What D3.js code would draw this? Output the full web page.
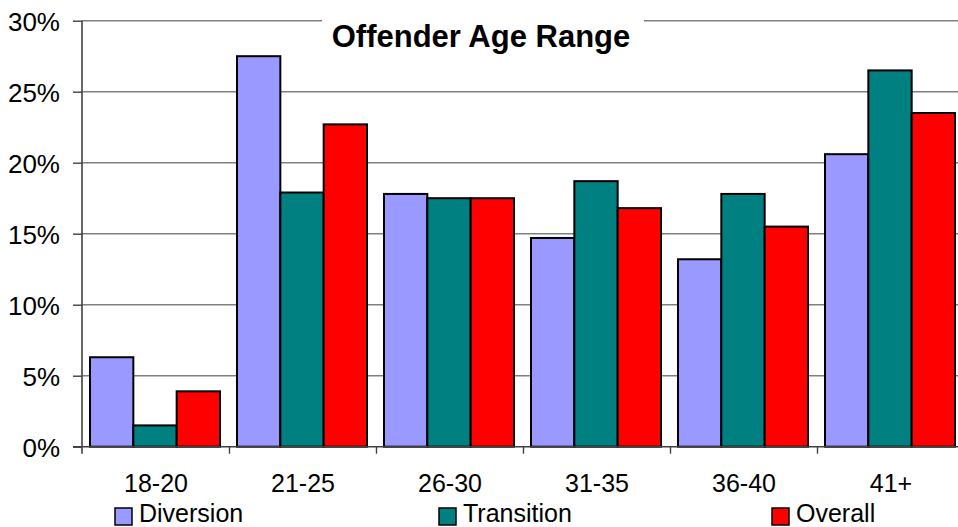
<!DOCTYPE html>
<html>
<head>
<meta charset="utf-8">
<script src="https://cdn.jsdelivr.net/npm/d3@7"></script>
<style>
  html, body { margin: 0; padding: 0; background: #fff; }
  svg { display: block; font-family: "Liberation Sans", Arial, sans-serif; }
</style>
</head>
<body>
<svg id="chart" width="958" height="527"></svg>
<script>
// Offender age distribution (% of offenders) per programme
const categories = ["18-20", "21-25", "26-30", "31-35", "36-40", "41+"];
const seriesNames = ["Diversion", "Transition", "Overall"];
const diversion  = [6.3, 27.5, 17.8, 14.7, 13.2, 20.6];
const transition = [1.5, 17.9, 17.5, 18.7, 17.8, 26.5];
const overall    = [3.9, 22.7, 17.5, 16.8, 15.5, 23.5];
const yTicks = [0, 5, 10, 15, 20, 25, 30];
const colors = ["#9999FF", "#008080", "#FF0000"];

const seriesValues = [diversion, transition, overall];

const svg = d3.select("#chart");
const W = 958;

const y = d3.scaleLinear().domain([0, 30]).range([446.7, 20.7]);
const x = d3.scaleBand().domain(categories).range([82.5, 964.5]);
const xInner = d3.scaleBand().domain(seriesNames).range([7.5, 137.5]);

// Horizontal gridlines
svg.append("g")
  .selectAll("line")
  .data(yTicks.filter(d => d > 0))
  .join("line")
  .attr("x1", 82).attr("x2", W)
  .attr("y1", d => y(d)).attr("y2", d => y(d))
  .attr("stroke", "#808080")
  .attr("stroke-width", 1.4);

// Title with white backing box
svg.append("rect")
  .attr("x", 322).attr("y", 8)
  .attr("width", 322).attr("height", 50)
  .attr("fill", "#fff");
svg.append("text")
  .attr("x", 481).attr("y", 46.5)
  .attr("text-anchor", "middle")
  .attr("font-weight", "bold")
  .attr("font-size", 31)
  .attr("fill", "#000")
  .text("Offender Age Range");

// Bars
const groups = svg.append("g")
  .selectAll("g")
  .data(categories)
  .join("g")
  .attr("transform", d => `translate(${x(d)},0)`);

groups.selectAll("rect")
  .data((c, i) => seriesNames.map((s, k) => ({ s, k, v: seriesValues[k][i] })))
  .join("rect")
  .attr("x", d => xInner(d.s))
  .attr("width", xInner.bandwidth())
  .attr("y", d => y(d.v))
  .attr("height", d => y(0) - y(d.v))
  .attr("fill", d => colors[d.k])
  .attr("stroke", "#000")
  .attr("stroke-width", 2);

// Y axis
const yAxis = d3.axisLeft(y)
  .tickValues(yTicks)
  .tickFormat(d => d + "%")
  .tickSize(9)
  .tickSizeOuter(0)
  .tickPadding(13);
const gy = svg.append("g")
  .attr("transform", "translate(82,0)")
  .call(yAxis);
gy.select(".domain").remove();
gy.selectAll(".tick line").attr("stroke", "#404040").attr("stroke-width", 1.4);
gy.selectAll(".tick text")
  .attr("font-size", 26)
  .attr("font-family", "Liberation Sans, Arial, sans-serif")
  .attr("fill", "#000")
  .attr("dy", "0.36em");

svg.append("line")
  .attr("x1", 82).attr("x2", 82)
  .attr("y1", y(30)).attr("y2", y(0) + 7)
  .attr("stroke", "#404040").attr("stroke-width", 1.6);

// X axis
const xAxis = d3.axisBottom(x).tickSize(0).tickSizeOuter(0).tickPadding(30);
const gx = svg.append("g")
  .attr("transform", `translate(0,${y(0)})`)
  .call(xAxis);
gx.select(".domain").remove();
gx.selectAll(".tick text")
  .attr("font-size", 25)
  .attr("font-family", "Liberation Sans, Arial, sans-serif")
  .attr("fill", "#000")
  .attr("dy", "0.6em");

svg.append("line")
  .attr("x1", 73).attr("x2", W)
  .attr("y1", y(0)).attr("y2", y(0))
  .attr("stroke", "#404040").attr("stroke-width", 1.6);

// Category separator ticks
svg.append("g")
  .selectAll("line")
  .data(categories.slice(1))
  .join("line")
  .attr("x1", d => x(d)).attr("x2", d => x(d))
  .attr("y1", y(0)).attr("y2", y(0) + 7)
  .attr("stroke", "#404040").attr("stroke-width", 1.4);

// Legend
const legendX = [115, 439, 772];
const legend = svg.append("g")
  .selectAll("g")
  .data(seriesNames)
  .join("g")
  .attr("transform", (d, i) => `translate(${legendX[i]},508)`);
legend.append("rect")
  .attr("width", 17).attr("height", 17)
  .attr("fill", (d, i) => colors[i])
  .attr("stroke", "#000").attr("stroke-width", 1.5);
legend.append("text")
  .attr("x", 24).attr("y", 14)
  .attr("font-size", 25)
  .attr("fill", "#000")
  .text(d => d);
</script>
</body>
</html>
